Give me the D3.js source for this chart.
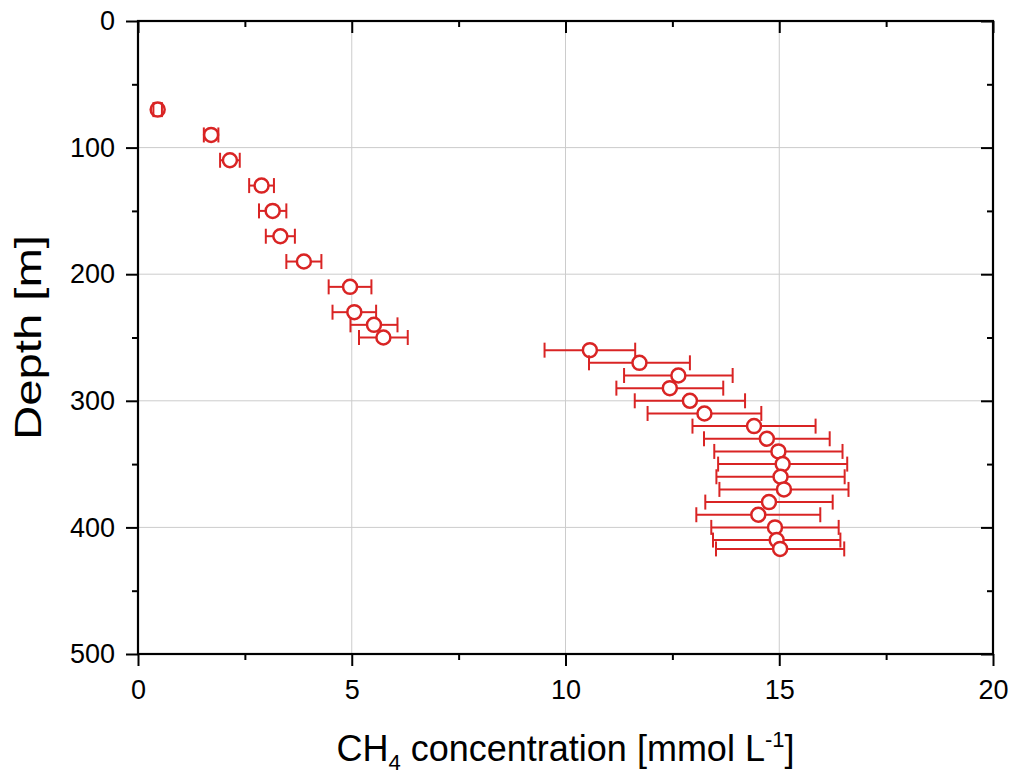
<!DOCTYPE html>
<html>
<head>
<meta charset="utf-8">
<script src="https://cdn.jsdelivr.net/npm/d3@7"></script>
<style>
  html, body { margin: 0; padding: 0; background: #fff; }
  svg { display: block; font-family: Arial, "Liberation Sans", sans-serif; }
</style>
</head>
<body>
<svg id="chart" width="1014" height="780"></svg>
<script>
// CH4 concentration profile with depth (mean ± error)
const depth = [70, 90, 110, 130, 150, 170, 190, 210, 230, 240, 250,
               260, 270, 280, 290, 300, 310, 320, 330, 340, 350, 360, 370,
               380, 390, 400, 410, 417];
const ch4 = [0.46, 1.71, 2.15, 2.89, 3.15, 3.33, 3.88, 4.96, 5.06, 5.52, 5.74,
             10.57, 11.73, 12.64, 12.44, 12.91, 13.25, 14.41, 14.71, 14.98, 15.08, 15.03, 15.11,
             14.76, 14.51, 14.90, 14.94, 15.02];
const ch4Err = [0.10, 0.17, 0.23, 0.29, 0.32, 0.34, 0.41, 0.50, 0.51, 0.55, 0.57,
                1.06, 1.18, 1.27, 1.25, 1.29, 1.33, 1.44, 1.47, 1.50, 1.51, 1.50, 1.51,
                1.49, 1.45, 1.49, 1.49, 1.50];
const xTicks = [0, 5, 10, 15, 20];
const yTicks = [0, 100, 200, 300, 400, 500];

const points = depth.map((d, i) => ({ depth: d, value: ch4[i], err: ch4Err[i] }));

const svg = d3.select("#chart");
const margin = { left: 138, right: 21, top: 21, bottom: 126 };
const W = 1014, H = 780;
const x = d3.scaleLinear().domain([0, 20]).range([margin.left, W - margin.right]);
const y = d3.scaleLinear().domain([0, 500]).range([margin.top, H - margin.bottom]);

const red = "#d92424";
const x0 = margin.left, x1 = W - margin.right, y0 = margin.top, y1 = H - margin.bottom;

// Grid lines
const grid = svg.append("g").attr("stroke", "#cccccc").attr("stroke-width", 1);
grid.selectAll("line.gx").data(xTicks.filter(t => t > 0 && t < 20)).join("line")
  .attr("class", "gx")
  .attr("x1", d => x(d)).attr("x2", d => x(d)).attr("y1", y0).attr("y2", y1);
grid.selectAll("line.gy").data(yTicks.filter(t => t > 0 && t < 500)).join("line")
  .attr("class", "gy")
  .attr("x1", x0).attr("x2", x1).attr("y1", d => y(d)).attr("y2", d => y(d));

// Axes: major and minor ticks on all four sides
const minorX = d3.range(0, 20.01, 2.5).filter(v => !xTicks.includes(v));
const minorY = d3.range(0, 500.1, 50).filter(v => !yTicks.includes(v));
const fontSize = 27;

const axisGroups = [
  svg.append("g").attr("transform", `translate(0,${y1})`)
    .call(d3.axisBottom(x).tickValues(xTicks).tickFormat(d3.format("d")).tickSize(12).tickPadding(14)),
  svg.append("g").attr("transform", `translate(0,${y1})`)
    .call(d3.axisBottom(x).tickValues(minorX).tickFormat("").tickSize(6)),
  svg.append("g").attr("transform", `translate(${x0},0)`)
    .call(d3.axisLeft(y).tickValues(yTicks).tickFormat(d3.format("d")).tickSize(12).tickPadding(11)),
  svg.append("g").attr("transform", `translate(${x0},0)`)
    .call(d3.axisLeft(y).tickValues(minorY).tickFormat("").tickSize(6)),
  svg.append("g").attr("transform", `translate(0,${y0})`)
    .call(d3.axisBottom(x).tickValues(xTicks).tickFormat("").tickSize(12)),
  svg.append("g").attr("transform", `translate(0,${y0})`)
    .call(d3.axisBottom(x).tickValues(minorX).tickFormat("").tickSize(6)),
  svg.append("g").attr("transform", `translate(${x1},0)`)
    .call(d3.axisLeft(y).tickValues(yTicks).tickFormat("").tickSize(12)),
  svg.append("g").attr("transform", `translate(${x1},0)`)
    .call(d3.axisLeft(y).tickValues(minorY).tickFormat("").tickSize(6))
];

axisGroups.forEach(g => {
  g.select(".domain").remove();
  g.selectAll(".tick line").attr("stroke", "#000").attr("stroke-width", 2);
  g.selectAll(".tick text").attr("font-size", fontSize).attr("fill", "#000")
    .attr("font-family", "Arial, 'Liberation Sans', sans-serif");
});

// Plot frame
svg.append("rect").attr("x", x0).attr("y", y0).attr("width", x1 - x0).attr("height", y1 - y0)
  .attr("fill", "none").attr("stroke", "#000").attr("stroke-width", 2.2);

// Data: open circles with horizontal error bars
const r = 7, cap = 7.5;
const pts = svg.append("g").selectAll("g.pt").data(points).join("g").attr("class", "pt");

pts.append("circle")
  .attr("cx", d => x(d.value)).attr("cy", d => y(d.depth)).attr("r", r)
  .attr("fill", "#fff").attr("stroke", red).attr("stroke-width", 2.5);

pts.each(function (d) {
  const g = d3.select(this);
  const cx = x(d.value), cy = y(d.depth);
  const xl = x(d.value - d.err), xr = x(d.value + d.err);
  if (cx - r > xl) {
    g.append("line").attr("x1", xl).attr("x2", cx - r).attr("y1", cy).attr("y2", cy);
    g.append("line").attr("x1", cx + r).attr("x2", xr).attr("y1", cy).attr("y2", cy);
  }
  g.append("line").attr("x1", xl).attr("x2", xl).attr("y1", cy - cap).attr("y2", cy + cap);
  g.append("line").attr("x1", xr).attr("x2", xr).attr("y1", cy - cap).attr("y2", cy + cap);
  g.selectAll("line").attr("stroke", red).attr("stroke-width", 2);
});

// Axis titles
svg.append("text")
  .attr("transform", `translate(41,${(y0 + y1) / 2}) rotate(-90)`)
  .attr("text-anchor", "middle").attr("font-size", 36).attr("fill", "#000")
  .attr("textLength", 205).attr("lengthAdjust", "spacingAndGlyphs")
  .text("Depth [m]");

const xTitle = svg.append("text")
  .attr("x", (x0 + x1) / 2).attr("y", 761)
  .attr("text-anchor", "middle").attr("font-size", 36).attr("fill", "#000");
xTitle.append("tspan").text("CH");
xTitle.append("tspan").attr("font-size", 22).attr("dy", 9).text("4");
xTitle.append("tspan").attr("dy", -9).text(" concentration [mmol L");
xTitle.append("tspan").attr("font-size", 22).attr("dy", -14).text("-1");
xTitle.append("tspan").attr("dy", 14).text("]");
</script>
</body>
</html>
